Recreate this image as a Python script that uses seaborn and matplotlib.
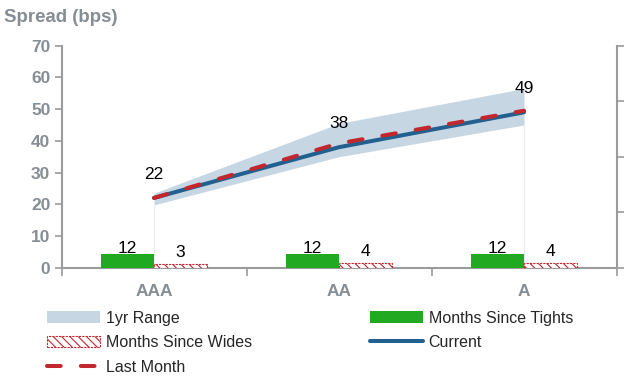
import numpy as np
import pandas as pd
import matplotlib
matplotlib.use("Agg")
import matplotlib.pyplot as plt
import seaborn as sns
from matplotlib.patches import Patch
from matplotlib.lines import Line2D

# Spread curve by rating bucket
ratings = ["AAA", "AA", "A"]
current = [22, 38, 49]
last_month = [22, 39.2, 49.5]
range_low = [19.8, 35.0, 45.0]
range_high = [23.5, 45.5, 56.5]

# Months since the 1yr tights / wides (secondary axis)
months_since_tights = [12, 12, 12]
months_since_wides = [3, 4, 4]

spread_ticks = [0, 10, 20, 30, 40, 50, 60, 70]
months_ticks = [0, 50, 100, 150, 200]

sns.set_style("white")
plt.rcParams["font.family"] = ["Liberation Sans", "DejaVu Sans"]
plt.rcParams["hatch.linewidth"] = 0.8

GREY = "#858d95"
SPINE = "#9b9b9b"
BLUE = "#22608f"
RED = "#c1272d"
BAND = "#c7d6e3"
GREEN = "#21aa21"
LW = 2.9

fig = plt.figure(figsize=(6.33, 3.78), dpi=100)
ax = fig.add_axes([61.5 / 633, 1 - 267.7 / 378, 555 / 633, 222 / 378])
ax2 = ax.twinx()

x = np.arange(len(ratings))

# 1yr range band with faint drop edges at both ends
ax.fill_between(x, range_low, range_high, color=BAND, lw=0, zorder=1)
ax.vlines([x[0], x[-1]], 0, [range_low[0], range_low[-1]], color="#e8ecf0", lw=0.8, zorder=1)

lines_df = pd.DataFrame({"x": x, "Current": current, "Last Month": last_month})
sns.lineplot(data=lines_df, x="x", y="Current", ax=ax, color=BLUE, lw=LW,
             zorder=3, legend=False)
sns.lineplot(data=lines_df, x="x", y="Last Month", ax=ax, color=RED, lw=LW,
             linestyle=(0, (3.4, 5.0)), dash_capstyle="round", zorder=4, legend=False)

for xi, v in zip(x, current):
    ax.annotate(f"{v:g}", (xi, v), xytext=(0, 17.0), textcoords="offset points",
                ha="center", va="center", fontsize=12.5, color="black", zorder=5)

# Months bars on the secondary axis
bars_df = pd.DataFrame({
    "rating": ratings * 2,
    "months": months_since_tights + months_since_wides,
    "series": ["Months Since Tights"] * 3 + ["Months Since Wides"] * 3,
})
sns.barplot(data=bars_df, x="rating", y="months", hue="series", ax=ax2,
            width=0.57, palette=[GREEN, "white"], saturation=1, legend=False)

tights_bars, wides_bars = ax2.containers[0], ax2.containers[1]
for p in tights_bars:
    p.set_facecolor(GREEN)
    p.set_edgecolor("none")
for p in wides_bars:
    p.set_facecolor("white")
    p.set_edgecolor(RED)
    p.set_hatch("\\\\\\\\")
    p.set_linestyle((0, (2, 1)))
    p.set_linewidth(0.8)

ax2.bar_label(tights_bars, labels=[f"{v}" for v in months_since_tights],
              padding=-1, fontsize=12.5, color="black")
ax2.bar_label(wides_bars, labels=[f"{v}" for v in months_since_wides],
              padding=3, fontsize=12.5, color="black")

# Axes, ticks and spines
ax.set_xlim(-0.5, len(ratings) - 0.5)
ax.set_ylim(0, 70)
ax2.set_ylim(0, 200)
ax.set_yticks(spread_ticks)
ax2.set_yticks(months_ticks)
ax2.set_yticklabels([])
ax.set_xticks(x)
ax.set_xticklabels(ratings)
ax.set_xticks(np.arange(-0.5, len(ratings)), minor=True)
ax.set_xlabel("")
ax.set_ylabel("")
ax2.set_xlabel("")
ax2.set_ylabel("")

ax.tick_params(axis="y", left=True, length=5, width=1.2, color=SPINE,
               labelcolor=GREY, labelsize=12.5, pad=3, direction="out")
ax.tick_params(axis="x", which="major", length=0, labelcolor=GREY,
               labelsize=12.5, pad=12)
ax.tick_params(axis="x", which="minor", bottom=True, length=6, width=1.2,
               color=SPINE, direction="out")
ax2.tick_params(axis="y", right=True, length=5, width=1.2, color=SPINE,
                direction="out")
for lbl in ax.get_yticklabels() + ax.get_xticklabels():
    lbl.set_fontweight("bold")

for a in (ax, ax2):
    for s in a.spines.values():
        s.set_color(SPINE)
        s.set_linewidth(1.5)
    a.spines["top"].set_visible(False)
ax.spines["right"].set_visible(False)
ax2.spines["left"].set_visible(False)
ax2.spines["bottom"].set_visible(False)
ax.grid(False)
ax2.grid(False)

fig.text(4 / 633, 1 - 18 / 378, "Spread (bps)", fontsize=13.4, fontweight="bold",
         color=GREY, ha="left", va="center")

handles = [
    Patch(facecolor=BAND, edgecolor="none", label="1yr Range"),
    Patch(facecolor="white", edgecolor=RED, hatch="\\\\\\\\", linestyle=(0, (2, 1)),
          lw=0.8, label="Months Since Wides"),
    Line2D([], [], color=RED, lw=LW, linestyle=(0, (3.4, 5.0)),
           dash_capstyle="round", label="Last Month"),
    Patch(facecolor=GREEN, edgecolor="none", label="Months Since Tights"),
    Line2D([], [], color=BLUE, lw=LW, solid_capstyle="round", label="Current"),
]
fig.legend(handles=handles, loc="upper left", bbox_to_anchor=(47 / 633, 1 - 310.5 / 378),
           ncol=2, frameon=False, fontsize=11.5, handlelength=3.3, handleheight=0.7,
           handletextpad=0.37, labelspacing=0.6, columnspacing=7.4,
           borderpad=0, borderaxespad=0)

fig.savefig("out.png", dpi=100)
